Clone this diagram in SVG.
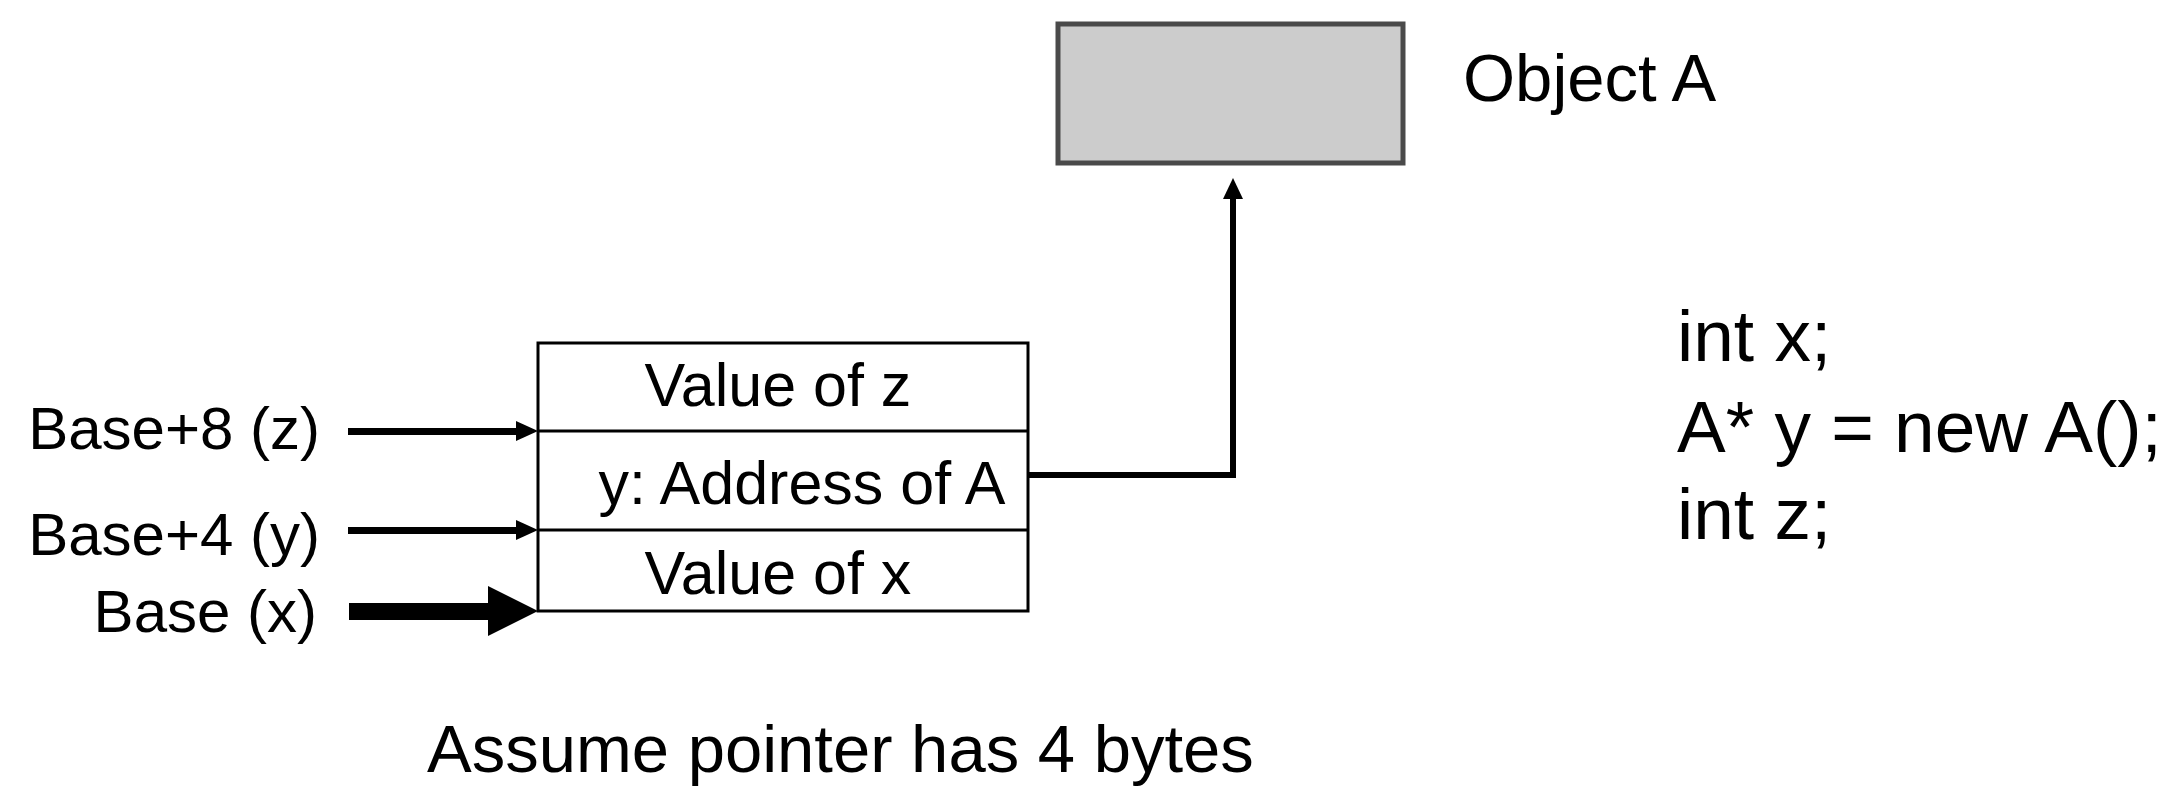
<svg xmlns="http://www.w3.org/2000/svg" width="2169" height="794" viewBox="0 0 2169 794">
  <style>
    text { font-family: "Liberation Sans", Arial, sans-serif; fill: #000; }
    .lbl { font-size: 60px; }
    .cell { font-size: 61px; }
    .code { font-size: 73px; }
    .big { font-size: 67px; }
    .frame { fill: #fff; stroke: #000; stroke-width: 3; }
    .sep { stroke: #000; stroke-width: 3; }
    .conn { fill: none; stroke: #000; stroke-width: 6; }
  </style>
  <rect width="2169" height="794" fill="#fff"/>

  <g id="memory">
    <rect class="frame" x="538" y="343" width="490" height="268"/>
    <line class="sep" x1="538" y1="431" x2="1028" y2="431"/>
    <line class="sep" x1="538" y1="530" x2="1028" y2="530"/>
  </g>
  <g id="cell-z"><text class="cell" x="778" y="406" text-anchor="middle">Value of z</text></g>
  <g id="cell-y"><text class="cell" x="802" y="504" text-anchor="middle">y: Address of A</text></g>
  <g id="cell-x"><text class="cell" x="778" y="594" text-anchor="middle">Value of x</text></g>

  <g id="objectA">
    <rect x="1058" y="24" width="345" height="139" fill="#cccccc" stroke="#4a4a4a" stroke-width="5"/>
    <text class="big" x="1463" y="101">Object A</text>
  </g>

  <g id="label-base8"><text class="lbl" x="320" y="449" text-anchor="end">Base+8 (z)</text></g>
  <g id="label-base4"><text class="lbl" x="320" y="555" text-anchor="end">Base+4 (y)</text></g>
  <g id="label-base"><text class="lbl" x="317" y="632" text-anchor="end">Base (x)</text></g>

  <g id="code">
    <text class="code" x="1677" y="361">int x;</text>
    <text class="code" x="1677" y="452">A* y = new A();</text>
    <text class="code" x="1677" y="539">int z;</text>
  </g>

  <g id="note"><text class="big" x="427" y="772">Assume pointer has 4 bytes</text></g>

  <g id="connectors">
    <rect x="348" y="428" width="170" height="7"/>
    <polygon points="516,421 538,431 516,441"/>
    <rect x="348" y="527" width="170" height="7"/>
    <polygon points="516,520 538,530 516,540"/>
    <rect x="349" y="603" width="141" height="17"/>
    <polygon points="488,586 538,611 488,636"/>
    <path class="conn" d="M1028,475 H1233 V196"/>
    <polygon points="1223,199 1233,178 1243,199"/>
  </g>
</svg>
